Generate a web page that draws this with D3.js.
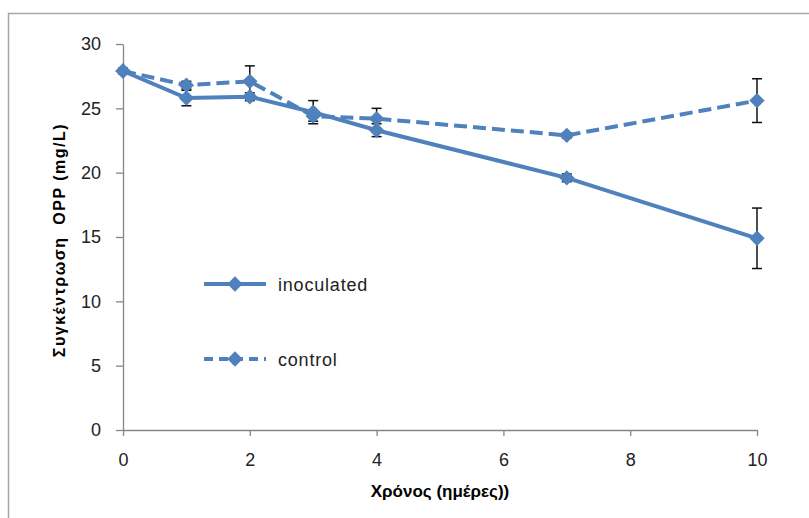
<!DOCTYPE html>
<html lang="en">
<head>
<meta charset="UTF-8">
<script src="https://d3js.org/d3.v7.min.js"></script>
<style>
    body { margin: 0; background: #fff; }
    svg { display: block; }
    .tick text { font-family: "Liberation Sans", Arial, sans-serif; font-size: 18px; fill: #222; }
    .axis path, .axis line { stroke: #868686; stroke-width: 1.3px; }
    .axis-title { font-family: "Liberation Sans", Arial, sans-serif; font-weight: bold; fill: #000; white-space: pre; }
    .legend-text { font-family: "Liberation Sans", Arial, sans-serif; font-size: 18px; letter-spacing: 0.8px; fill: #222; }
</style>
</head>
<body>
<div id="chart"></div>
<script>
    // days
    const days = [0, 1, 2, 3, 4, 7, 10];
    // OPP concentration (mg/L)
    const inoculated = [27.9, 25.8, 25.9, 24.7, 23.3, 19.6, 14.9];
    const inoculatedErr = [0.2, 0.6, 0.3, 0.9, 0.5, 0.3, 2.35];
    const control = [27.9, 26.8, 27.1, 24.4, 24.2, 22.9, 25.6];
    const controlErr = [0.2, 0.3, 1.2, 0.4, 0.8, 0.2, 1.7];
    const xTicks = [0, 2, 4, 6, 8, 10];
    const yTicks = [0, 5, 10, 15, 20, 25, 30];

    const W = 809, H = 518;
    const blue = "#4f81bd";

    const svg = d3.select("#chart").append("svg")
        .attr("width", W)
        .attr("height", H);

    // chart frame
    svg.append("rect")
        .attr("x", 8.5).attr("y", 13.5)
        .attr("width", W + 20).attr("height", H + 20)
        .attr("fill", "none")
        .attr("stroke", "#a6a6a6")
        .attr("stroke-width", 1.5);

    const x = d3.scaleLinear().domain([0, 10]).range([123, 757]);
    const y = d3.scaleLinear().domain([0, 30]).range([430, 44]);

    svg.append("g")
        .attr("class", "axis")
        .attr("transform", `translate(0,${y(0)})`)
        .call(d3.axisBottom(x).tickValues(xTicks).tickSize(6).tickPadding(17).tickSizeOuter(0))
        .selectAll("text").attr("dy", "0.71em");

    svg.append("g")
        .attr("class", "axis")
        .attr("transform", `translate(${x(0)},0)`)
        .call(d3.axisLeft(y).tickValues(yTicks).tickSize(7).tickPadding(15).tickSizeOuter(0));

    const series = [
        { name: "inoculated", values: inoculated, err: inoculatedErr, dash: null },
        { name: "control", values: control, err: controlErr, dash: "13,6" }
    ];

    const line = d3.line()
        .x((d, i) => x(days[i]))
        .y(d => y(d));

    const diamond = d3.symbol().type(d3.symbolDiamond2).size(150);

    // error bars
    series.forEach(s => {
        const g = svg.append("g").attr("stroke", "#111").attr("stroke-width", 1.5);
        s.values.forEach((v, i) => {
            const cx = x(days[i]);
            const top = y(v + s.err[i]), bot = y(v - s.err[i]);
            g.append("line").attr("x1", cx).attr("x2", cx).attr("y1", top).attr("y2", bot);
            g.append("line").attr("x1", cx - 5).attr("x2", cx + 5).attr("y1", top).attr("y2", top);
            g.append("line").attr("x1", cx - 5).attr("x2", cx + 5).attr("y1", bot).attr("y2", bot);
        });
    });

    series.slice().reverse().forEach(s => {
        svg.append("path")
            .datum(s.values)
            .attr("d", line)
            .attr("fill", "none")
            .attr("stroke", blue)
            .attr("stroke-width", 4)
            .attr("stroke-dasharray", s.dash);

        svg.selectAll(null)
            .data(s.values)
            .enter()
            .append("path")
            .attr("d", diamond)
            .attr("transform", (d, i) => `translate(${x(days[i])},${y(d)})`)
            .attr("fill", blue);
    });

    // legend
    const legendY = [284, 359];
    series.forEach((s, i) => {
        const g = svg.append("g").attr("transform", `translate(0,${legendY[i]})`);
        g.append("line")
            .attr("x1", 204).attr("x2", 266)
            .attr("stroke", blue)
            .attr("stroke-width", 4)
            .attr("stroke-dasharray", s.dash ? "9,6" : null);
        g.append("path")
            .attr("d", diamond)
            .attr("transform", "translate(235,0)")
            .attr("fill", blue);
        g.append("text")
            .attr("class", "legend-text")
            .attr("x", 278)
            .attr("y", 7)
            .text(s.name);
    });

    // axis titles
    svg.append("text")
        .attr("class", "axis-title")
        .attr("text-anchor", "middle")
        .attr("font-size", 17)
        .attr("x", 440)
        .attr("y", 497)
        .text("Χρόνος (ημέρες))");

    svg.append("text")
        .attr("class", "axis-title")
        .attr("text-anchor", "middle")
        .attr("font-size", 16)
        .attr("letter-spacing", 1.5)
        .attr("transform", "translate(65,240) rotate(-90)")
        .text("Συγκέντρωση  OPP (mg/L)");
</script>
</body>
</html>
